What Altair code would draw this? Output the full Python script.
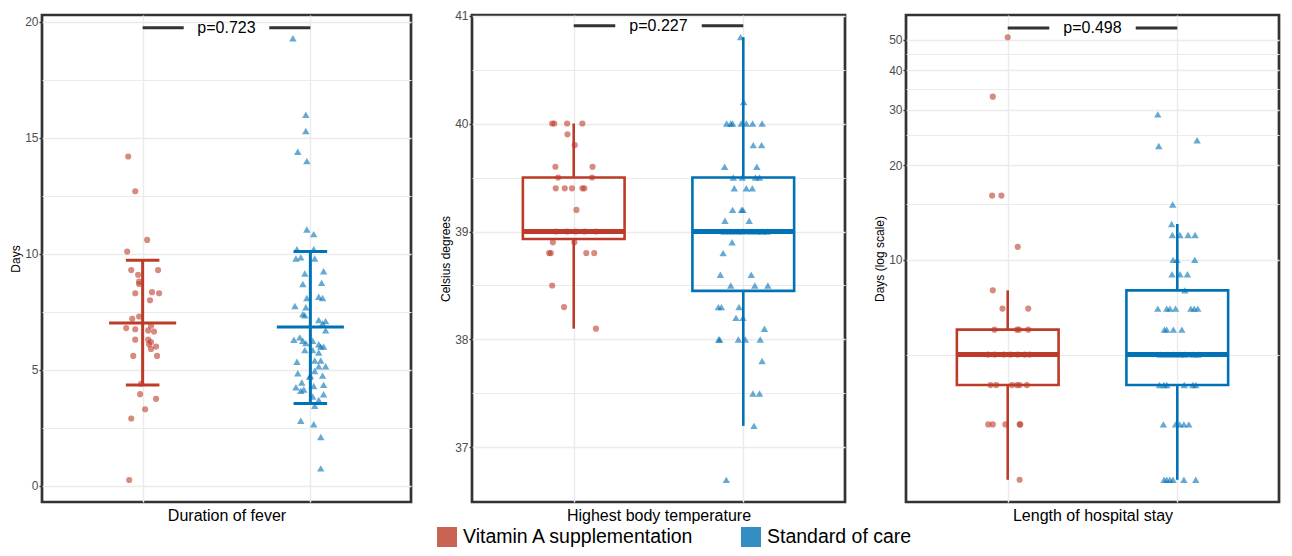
import altair as alt
import pandas as pd

# ---------------- data ----------------
GROUPS = ["Vitamin A supplementation", "Standard of care"]
RED = "#BC3C29"
BLUE = "#0072B5"

# Panel 1: duration of fever (days), points + jitter offsets (category units)
fever_va = [14.2, 12.7, 10.6, 10.1, 9.3, 9.1, 9.3, 8.8, 8.7, 8.3, 8.35, 8.3, 8.0, 7.2, 7.3,
            6.8, 6.75, 6.7, 6.9, 6.65, 6.3, 6.3, 6.2, 6.1, 6.0, 5.9, 5.6, 5.6, 4.4, 3.95,
            3.75, 3.3, 2.9, 0.25]
fever_va_jit = [-0.086, -0.044, 0.027, -0.092, -0.068, -0.027, 0.092, -0.021, -0.021, -0.044,
                0.056, 0.098, 0.044, -0.062, -0.021, -0.098, -0.044, 0.033, 0.05, 0.068,
                -0.044, 0.033, 0.05, 0.038, 0.08, 0.05, -0.056, 0.086, -0.009, -0.015,
                0.08, 0.015, -0.068, -0.08]
fever_sc = [19.3, 16.0, 15.3, 14.4, 14.0, 11.05, 10.85, 10.2, 10.2, 9.85, 9.8, 9.8, 9.25, 9.15,
            8.7, 8.75, 8.1, 8.15, 8.1, 7.75, 7.7, 7.4, 7.35, 7.15, 7.1, 7.0, 6.7, 6.3, 6.4,
            6.25, 6.15, 6.25, 6.1, 6.0, 5.85, 5.85, 5.75, 6.0, 5.35, 5.4, 5.4, 5.15, 5.15,
            4.85, 4.75, 4.95, 4.7, 4.75, 4.45, 4.25, 4.15, 4.3, 4.35, 4.1, 3.95, 3.85, 3.7,
            3.45, 2.8, 2.65, 2.1, 0.75]
fever_sc_jit = [-0.104, -0.027, -0.027, -0.075, -0.021, -0.021, 0.02, -0.08, 0.02, -0.057,
                -0.086, 0.026, 0.079, -0.033, -0.045, 0.067, -0.021, 0.05, 0.073, -0.092,
                -0.027, -0.045, -0.033, 0.05, 0.091, 0.073, 0.091, -0.098, -0.063, -0.045,
                -0.027, 0.014, 0.05, 0.079, -0.033, 0.014, 0.05, 0.062, -0.08, 0.026,
                0.062, 0.05, 0.091, -0.075, 0.0, 0.026, -0.004, 0.073, -0.051, -0.086,
                -0.039, 0.02, 0.079, -0.057, 0.079, 0.014, 0.05, 0.026, -0.057, 0.02,
                0.062, 0.062]
fever_mean = [7.02, 6.85]
fever_low = [4.35, 3.55]
fever_high = [9.72, 10.1]

# Panel 2: highest body temperature (Celsius)
temp_va = [40.0, 40.0, 40.0, 40.0, 39.9, 39.8, 39.6, 39.6, 39.5, 39.5, 39.4, 39.4, 39.4, 39.4,
           39.4, 39.2, 39.0, 39.0, 39.0, 39.0, 39.0, 38.9, 38.9, 38.8, 38.8, 38.8, 38.8,
           38.5, 38.3, 38.1]
temp_va_jit = [-0.127, -0.115, -0.039, 0.051, -0.037, 0.006, -0.108, 0.111, -0.092, 0.108,
               -0.106, -0.053, -0.01, 0.051, 0.063, 0.016, -0.106, -0.039, 0.012, 0.065,
               0.133, -0.123, 0.004, -0.145, -0.135, 0.074, 0.121, -0.127, -0.057, 0.131]
temp_sc = [40.8, 40.2, 40.0, 40.0, 40.0, 40.0, 40.0, 40.0, 40.0, 39.8, 39.8, 39.6, 39.6, 39.5,
           39.5, 39.5, 39.5, 39.4, 39.4, 39.4, 39.2, 39.2, 39.2, 39.1, 39.1, 39.0, 39.0, 39.0,
           39.0, 39.0, 39.0, 39.0, 39.0, 38.9, 38.8, 38.6, 38.6, 38.5, 38.5, 38.5, 38.3, 38.3,
           38.3, 38.2, 38.2, 38.1, 38.0, 38.0, 38.0, 38.0, 38.0, 37.8, 37.5, 37.5, 37.2, 36.7]
temp_sc_jit = [-0.016, 0.002, -0.098, -0.074, -0.063, -0.012, 0.018, 0.055, 0.111, 0.059,
               0.108, -0.11, 0.08, -0.059, -0.006, 0.072, 0.096, -0.053, 0.018, 0.053,
               -0.063, -0.01, -0.002, -0.108, 0.035, -0.113, -0.074, -0.035, -0.002, 0.043,
               0.082, 0.111, 0.141, -0.066, -0.119, -0.135, 0.047, -0.074, 0.068, 0.145,
               -0.147, -0.129, -0.025, -0.043, -0.002, 0.125, -0.145, -0.139, -0.029, 0.012,
               0.1, 0.111, 0.057, 0.096, 0.063, -0.1]
temp_q1 = [38.93, 38.45]
temp_med = [39.0, 39.0]
temp_q3 = [39.5, 39.5]
temp_lo = [38.1, 37.2]
temp_hi = [40.0, 40.8]

# Panel 3: length of hospital stay (days, log scale)
stay_va = [51, 33, 16, 16, 11, 8, 7, 7, 6, 6, 6, 6, 5, 5, 5, 5, 5, 5, 5, 4, 4, 4, 4, 4, 4,
           3, 3, 3, 3, 3, 2]
stay_va_jit = [0.0, -0.088, -0.092, -0.037, 0.059, -0.088, -0.031, 0.121, -0.078, 0.055,
               0.066, 0.121, -0.117, -0.078, -0.023, 0.016, 0.059, 0.101, 0.129, -0.101,
               -0.068, 0.025, 0.055, 0.07, 0.113, -0.115, -0.088, -0.014, 0.07, 0.074, 0.07]
stay_sc = [29, 23, 24, 15, 13, 12, 12, 12, 12, 10, 10, 10, 9, 9, 9, 8, 7, 7, 7, 7, 7, 7, 7,
           6, 6, 6, 6, 5, 5, 5, 5, 5, 5, 5, 4, 4, 4, 4, 4, 4, 3, 3, 3, 3, 3, 2, 2, 2, 2, 2, 2]
stay_sc_jit = [-0.115, -0.109, 0.117, -0.027, -0.033, -0.029, 0.016, 0.064, 0.105, -0.025,
               -0.002, 0.103, -0.031, 0.016, 0.06, 0.045, -0.115, -0.062, -0.043, -0.01,
               0.08, 0.1, 0.121, -0.076, -0.062, -0.023, 0.027, -0.101, -0.062, -0.023,
               0.016, 0.045, 0.094, 0.123, -0.105, -0.078, -0.062, 0.041, 0.092, 0.109,
               -0.082, -0.01, 0.014, 0.039, 0.068, -0.078, -0.062, -0.043, -0.025, 0.039,
               0.109]
stay_q1 = [4, 4]
stay_med = [5, 5]
stay_q3 = [6, 8]
stay_lo = [2, 2]
stay_hi = [8, 13]

p_labels = ["p=0.723", "p=0.227", "p=0.498"]
p_heights = [19.75, 40.905, 54.6]

panel_titles = ["Duration of fever", "Highest body temperature", "Length of hospital stay"]
y_titles = ["Days", "Celsius degrees", "Days (log scale)"]

# ---------------- helpers ----------------
FONT = "Liberation Sans"
GRID = "#EBEBEB"
color_scale = alt.Scale(domain=GROUPS, range=[RED, BLUE])
SHAPES = ["circle", "triangle-up"]
SIZES = [38, 55]
HALF_BOX = 0.3
X_SCALE = alt.Scale(domain=[0.4, 2.6], nice=False, zero=False)
WIDTHS = [369, 373, 373]
HEIGHT = 487


def make_x_axis(title):
    return alt.Axis(title=title, values=[1, 2], labels=False, ticks=False,
                    domain=False, grid=True, gridColor=GRID, gridWidth=1.4,
                    titleFontSize=16, titleFontWeight="normal", titleColor="black",
                    titleFont=FONT, titlePadding=5)


def make_y_axis(title, values, test, fmt):
    return alt.Axis(
        title=title, values=values, format=fmt,
        labelExpr=f"({test}) ? datum.label : ''",
        tickOpacity={"condition": {"test": test, "value": 1}, "value": 0},
        gridWidth={"condition": {"test": test, "value": 1.7}, "value": 1.1},
        gridColor=GRID, domain=False, tickSize=3, tickWidth=1.4, tickColor="#333333",
        labelColor="#4D4D4D", labelFontSize=12, labelFont=FONT, labelPadding=1,
        titleFontSize=12, titleFontWeight="normal", titleColor="black", titleFont=FONT,
        titlePadding=2)


def points_frame(va, va_jit, sc, sc_jit):
    rows = []
    for v, j in zip(va, va_jit):
        rows.append({"group": GROUPS[0], "pos": 1 + j, "value": v})
    for v, j in zip(sc, sc_jit):
        rows.append({"group": GROUPS[1], "pos": 2 + j, "value": v})
    return pd.DataFrame(rows)


def build_panel(idx, df, yscale, yaxis, summary_fn):
    xaxis = make_x_axis(panel_titles[idx])
    xe = lambda f: alt.X(f, type="quantitative", scale=X_SCALE, axis=xaxis)
    ye = lambda f: alt.Y(f, type="quantitative", scale=yscale, axis=yaxis)
    col = alt.Color("group:N", scale=color_scale, legend=None)

    # legend-only layer (invisible squares)
    legend_layer = alt.Chart(df).mark_square(opacity=0).encode(
        x=xe("pos"), y=ye("value"),
        color=alt.Color("group:N", scale=color_scale,
                        legend=alt.Legend(title=None, orient="none", legendX=395, legendY=512,
                                          direction="horizontal", symbolType="square",
                                          symbolSize=400, symbolOpacity=0.8,
                                          symbolStrokeWidth=0, labelFontSize=19.5,
                                          labelFont=FONT, labelColor="black", labelOffset=6,
                                          labelLimit=500, columnPadding=46, padding=0)),
    )
    pt_layers = []
    for g, shp, sz in zip(GROUPS, SHAPES, SIZES):
        pt_layers.append(
            alt.Chart(df).transform_filter(alt.datum.group == g)
            .mark_point(filled=True, opacity=0.6, strokeWidth=0, shape=shp, size=sz)
            .encode(x=xe("pos"), y=ye("value"), color=col)
        )
    bdf = pd.DataFrame([
        {"x": 1, "x2": 1.245, "y": p_heights[idx]},
        {"x": 1.755, "x2": 2, "y": p_heights[idx]},
    ])
    bracket = alt.Chart(bdf).mark_rule(color="#333333", strokeWidth=3).encode(
        x=xe("x"), x2="x2", y=ye("y"))
    tdf = pd.DataFrame([{"x": 1.5, "y": p_heights[idx], "t": p_labels[idx]}])
    ptext = alt.Chart(tdf).mark_text(fontSize=16, font=FONT, color="black",
                                     baseline="middle", align="center").encode(
        x=xe("x"), y=ye("y"), text="t:N")
    layers = [legend_layer] + pt_layers + summary_fn(xe, ye, col) + [bracket, ptext]
    return alt.layer(*layers).properties(width=WIDTHS[idx], height=HEIGHT)


def box_fn(q1, med, q3, lo, hi):
    def fn(xe, ye, col):
        rows = []
        for i, g in enumerate(GROUPS):
            rows.append({"group": g, "xl": i + 1 - HALF_BOX, "xr": i + 1 + HALF_BOX,
                         "xc": i + 1, "q1": q1[i], "med": med[i], "q3": q3[i],
                         "lo": lo[i], "hi": hi[i]})
        c = alt.Chart(pd.DataFrame(rows))
        box = c.mark_bar(fillOpacity=0, strokeWidth=2.6).encode(
            x=xe("xl"), x2="xr", y=ye("q1"), y2="q3",
            stroke=alt.Stroke("group:N", scale=color_scale, legend=None))
        wlo = c.mark_rule(strokeWidth=2.6).encode(x=xe("xc"), y=ye("lo"), y2="q1", color=col)
        whi = c.mark_rule(strokeWidth=2.6).encode(x=xe("xc"), y=ye("q3"), y2="hi", color=col)
        medl = c.mark_rule(strokeWidth=5).encode(x=xe("xl"), x2="xr", y=ye("med"), color=col)
        return [box, wlo, whi, medl]
    return fn


def errbar_fn(mean, low, high):
    def fn(xe, ye, col):
        rows = []
        for i, g in enumerate(GROUPS):
            rows.append({"group": g, "xc": i + 1, "ml": i + 0.8, "mr": i + 1.2,
                         "cl": i + 0.9, "cr": i + 1.1,
                         "mean": mean[i], "low": low[i], "high": high[i]})
        c = alt.Chart(pd.DataFrame(rows))
        vert = c.mark_rule(strokeWidth=3).encode(x=xe("xc"), y=ye("low"), y2="high", color=col)
        meanl = c.mark_rule(strokeWidth=3).encode(x=xe("ml"), x2="mr", y=ye("mean"), color=col)
        capl = c.mark_rule(strokeWidth=3).encode(x=xe("cl"), x2="cr", y=ye("low"), color=col)
        caph = c.mark_rule(strokeWidth=3).encode(x=xe("cl"), x2="cr", y=ye("high"), color=col)
        return [vert, meanl, capl, caph]
    return fn


# Panel 1
ys1 = alt.Scale(domain=[-0.7, 20.3], nice=False, zero=False)
p1 = build_panel(0, points_frame(fever_va, fever_va_jit, fever_sc, fever_sc_jit), ys1,
                 make_y_axis(y_titles[0], [0, 2.5, 5, 7.5, 10, 12.5, 15, 17.5, 20],
                             "datum.value % 5 === 0", "~g"),
                 errbar_fn(fever_mean, fever_low, fever_high))

# Panel 2
ys2 = alt.Scale(domain=[36.495, 41.005], nice=False, zero=False)
p2 = build_panel(1, points_frame(temp_va, temp_va_jit, temp_sc, temp_sc_jit), ys2,
                 make_y_axis(y_titles[1], [37, 37.5, 38, 38.5, 39, 39.5, 40, 40.5, 41],
                             "datum.value % 1 === 0", "~g"),
                 box_fn(temp_q1, temp_med, temp_q3, temp_lo, temp_hi))

# Panel 3
ys3 = alt.Scale(type="log", domain=[1.70, 60.0], nice=False)
p3 = build_panel(2, points_frame(stay_va, stay_va_jit, stay_sc, stay_sc_jit), ys3,
                 make_y_axis(y_titles[2], [5, 10, 15, 20, 25, 30, 35, 40, 45, 50],
                             "datum.value % 10 === 0", "~g"),
                 box_fn(stay_q1, stay_med, stay_q3, stay_lo, stay_hi))

chart = alt.hconcat(p1, p2, p3, spacing=25).properties(
    padding={"left": 0, "top": 0, "right": 0, "bottom": 0}
).configure(font=FONT).configure_view(stroke="#333333", strokeWidth=2.7)

chart.save("out.html", embed_options={"renderer": "svg", "actions": False})
